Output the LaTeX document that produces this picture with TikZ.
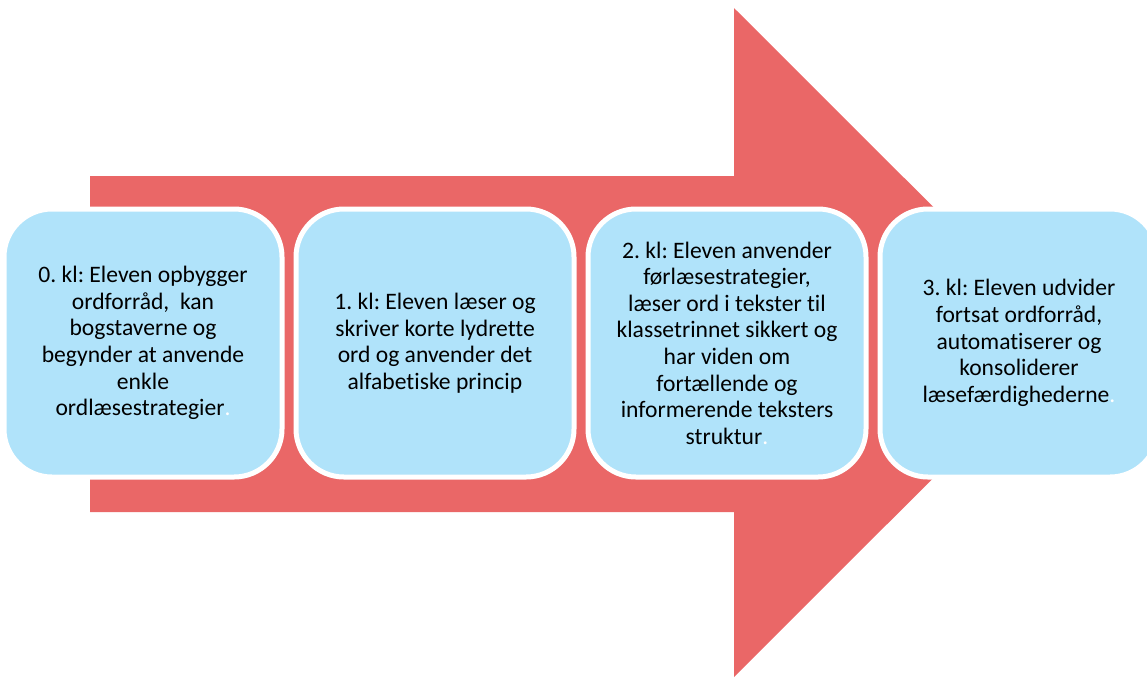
\documentclass[tikz,border=0pt]{standalone}
\usepackage{fontspec}
\setmainfont{Carlito}[Ligatures=NoCommon]
\usepackage{xcolor}
\usepackage{tikz}
\usetikzlibrary{shapes,arrows,positioning,calc}

\definecolor{arrowred}{RGB}{234,103,103}
\definecolor{boxblue}{RGB}{176,227,250}

\begin{document}
\frenchspacing
\begin{tikzpicture}[
        x=0.5pt, y=-0.5pt,
        node distance=4.5pt,
        stage/.style={rectangle, draw=white, line width=2.5pt, fill=boxblue, minimum width=139pt, minimum height=134pt, rounded corners=24pt, align=center, font=\fontsize{11.8}{13.3}\selectfont}
      ]
        \useasboundingbox (0,0) rectangle (1147,677);
        \clip (0,0) rectangle (1147,677);

        % Big arrow behind the stages
        \fill[arrowred] (90,176) -- (734,176) -- (734,8) -- (1069,342.5) -- (734,677) -- (734,512) -- (90,512) -- cycle;

        % Stages
        \node[stage] (kl0) at (143,343) {0. kl: Eleven opbygger\\ordforråd,\ \ kan\\bogstaverne og\\begynder at anvende\\enkle\\ordlæsestrategier{\color{white}.}};
        \node[stage, right=of kl0] (kl1) {1. kl: Eleven læser og\\skriver korte lydrette\\ord og anvender det\\alfabetiske princip};
        \node[stage, right=of kl1] (kl2) {2. kl: Eleven anvender\\førlæsestrategier,\\læser ord i tekster til\\klassetrinnet sikkert og\\har viden om\\fortællende og\\informerende teksters\\struktur{\color{white}.}};
        \node[stage, right=of kl2] (kl3) {3. kl: Eleven udvider\\fortsat ordforråd,\\automatiserer og\\konsoliderer\\læsefærdighederne{\color{white}.}};
      \end{tikzpicture}
\end{document}
